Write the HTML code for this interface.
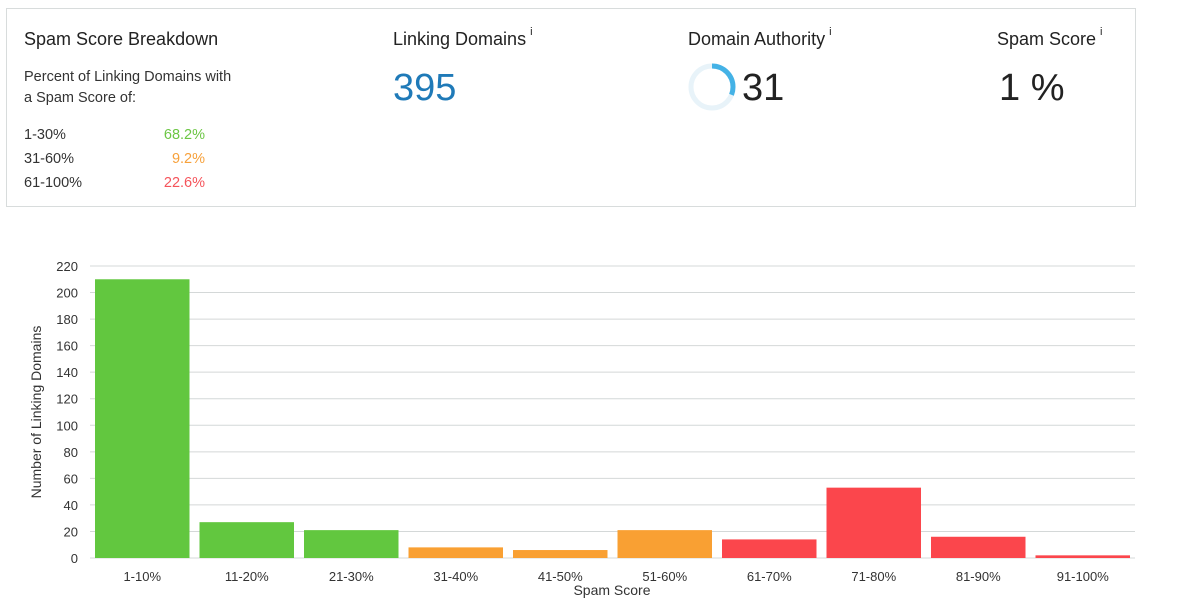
<!DOCTYPE html>
<html><head><meta charset="utf-8"><style>
body{margin:0;width:1200px;height:606px;background:#fff;font-family:"Liberation Sans",sans-serif;color:#222;position:relative;overflow:hidden}
.card{position:absolute;left:6px;top:8px;width:1130px;height:199px;border:1px solid #d8dcdc;box-sizing:border-box}
.abs{position:absolute;white-space:nowrap}
.h{font-size:18px;color:#222}
.sup{font-size:11px;vertical-align:top;position:relative;top:-3px;margin-left:4px}
.s{font-size:14.5px;color:#333}
</style></head><body>
<div class="card"></div>
<div class="abs h" style="left:24px;top:29px">Spam Score Breakdown</div>
<div class="abs s" style="left:24px;top:67px;line-height:21px">Percent of Linking Domains with<br>a Spam Score of:</div>
<div class="abs s" style="left:24px;top:127px">1-30%</div>
<div class="abs s" style="left:24px;top:151px">31-60%</div>
<div class="abs s" style="left:24px;top:175px">61-100%</div>
<div class="abs s" style="right:995px;top:127px;color:#6cc644">68.2%</div>
<div class="abs s" style="right:995px;top:151px;color:#f7a13b">9.2%</div>
<div class="abs s" style="right:995px;top:175px;color:#f5545b">22.6%</div>
<div class="abs h" style="left:393px;top:29px">Linking Domains<span class="sup">i</span></div>
<div class="abs" style="left:393px;top:67px;font-size:38px;color:#1f7ab8">395</div>
<div class="abs h" style="left:688px;top:29px">Domain Authority<span class="sup">i</span></div>
<svg class="abs" style="left:688px;top:63px" width="50" height="50">
<circle cx="24" cy="24" r="21" fill="none" stroke="#e8f3f9" stroke-width="5"/>
<circle cx="24" cy="24" r="21" fill="none" stroke="#44b2e6" stroke-width="5" stroke-dasharray="40.9 200" transform="rotate(-90 24 24)"/>
</svg>
<div class="abs" style="left:742px;top:67px;font-size:38px;color:#222">31</div>
<div class="abs h" style="left:997px;top:29px">Spam Score<span class="sup">i</span></div>
<div class="abs" style="left:999px;top:67px;font-size:38px;color:#222">1 %</div>
<svg id="chart" class="abs" style="left:0;top:240px" width="1200" height="366"></svg>
<script>
const categories=["1-10%","11-20%","21-30%","31-40%","41-50%","51-60%","61-70%","71-80%","81-90%","91-100%"];
const values=[210,27,21,8,6,21,14,53,16,2];
const colors=["#62c73f","#62c73f","#62c73f","#f9a033","#f9a033","#f9a033","#fb464c","#fb464c","#fb464c","#fb464c"];
const yTicks=[0,20,40,60,80,100,120,140,160,180,200,220];
const svg=document.getElementById('chart');const NS="http://www.w3.org/2000/svg";
const x0=90,x1=1135,yb=318,yt=26,ymax=220;
const y=v=>yb-(v/ymax)*(yb-yt);
const bw=(x1-x0)/categories.length;
function mk(t,a){const e=document.createElementNS(NS,t);for(const k in a)e.setAttribute(k,a[k]);svg.appendChild(e);return e;}
yTicks.forEach(v=>{
 const l=mk('line',{x1:x0,x2:x1,y1:y(v),y2:y(v),stroke:'#d4d8d8','stroke-width':1});
 
 
 const t=mk('text',{x:78,y:y(v)+5,'text-anchor':'end','font-size':13,fill:'#333'});t.textContent=v;
 
 
});
categories.forEach((c,i)=>{
 const r=mk('rect',{x:x0+i*bw+5,y:y(values[i]),width:bw-10,height:yb-y(values[i]),fill:colors[i]});
 
 
 const t=mk('text',{x:x0+i*bw+bw/2,y:yb+23,'text-anchor':'middle','font-size':13,fill:'#333'});t.textContent=c;
 
 
});
const xt=mk('text',{x:612,y:355,'text-anchor':'middle','font-size':14,fill:'#333'});xt.textContent='Spam Score';


const yl=mk('text',{x:0,y:0,'text-anchor':'middle','font-size':14,fill:'#333',transform:'translate(41,172) rotate(-90)'});yl.textContent='Number of Linking Domains';


</script>
</body></html>
